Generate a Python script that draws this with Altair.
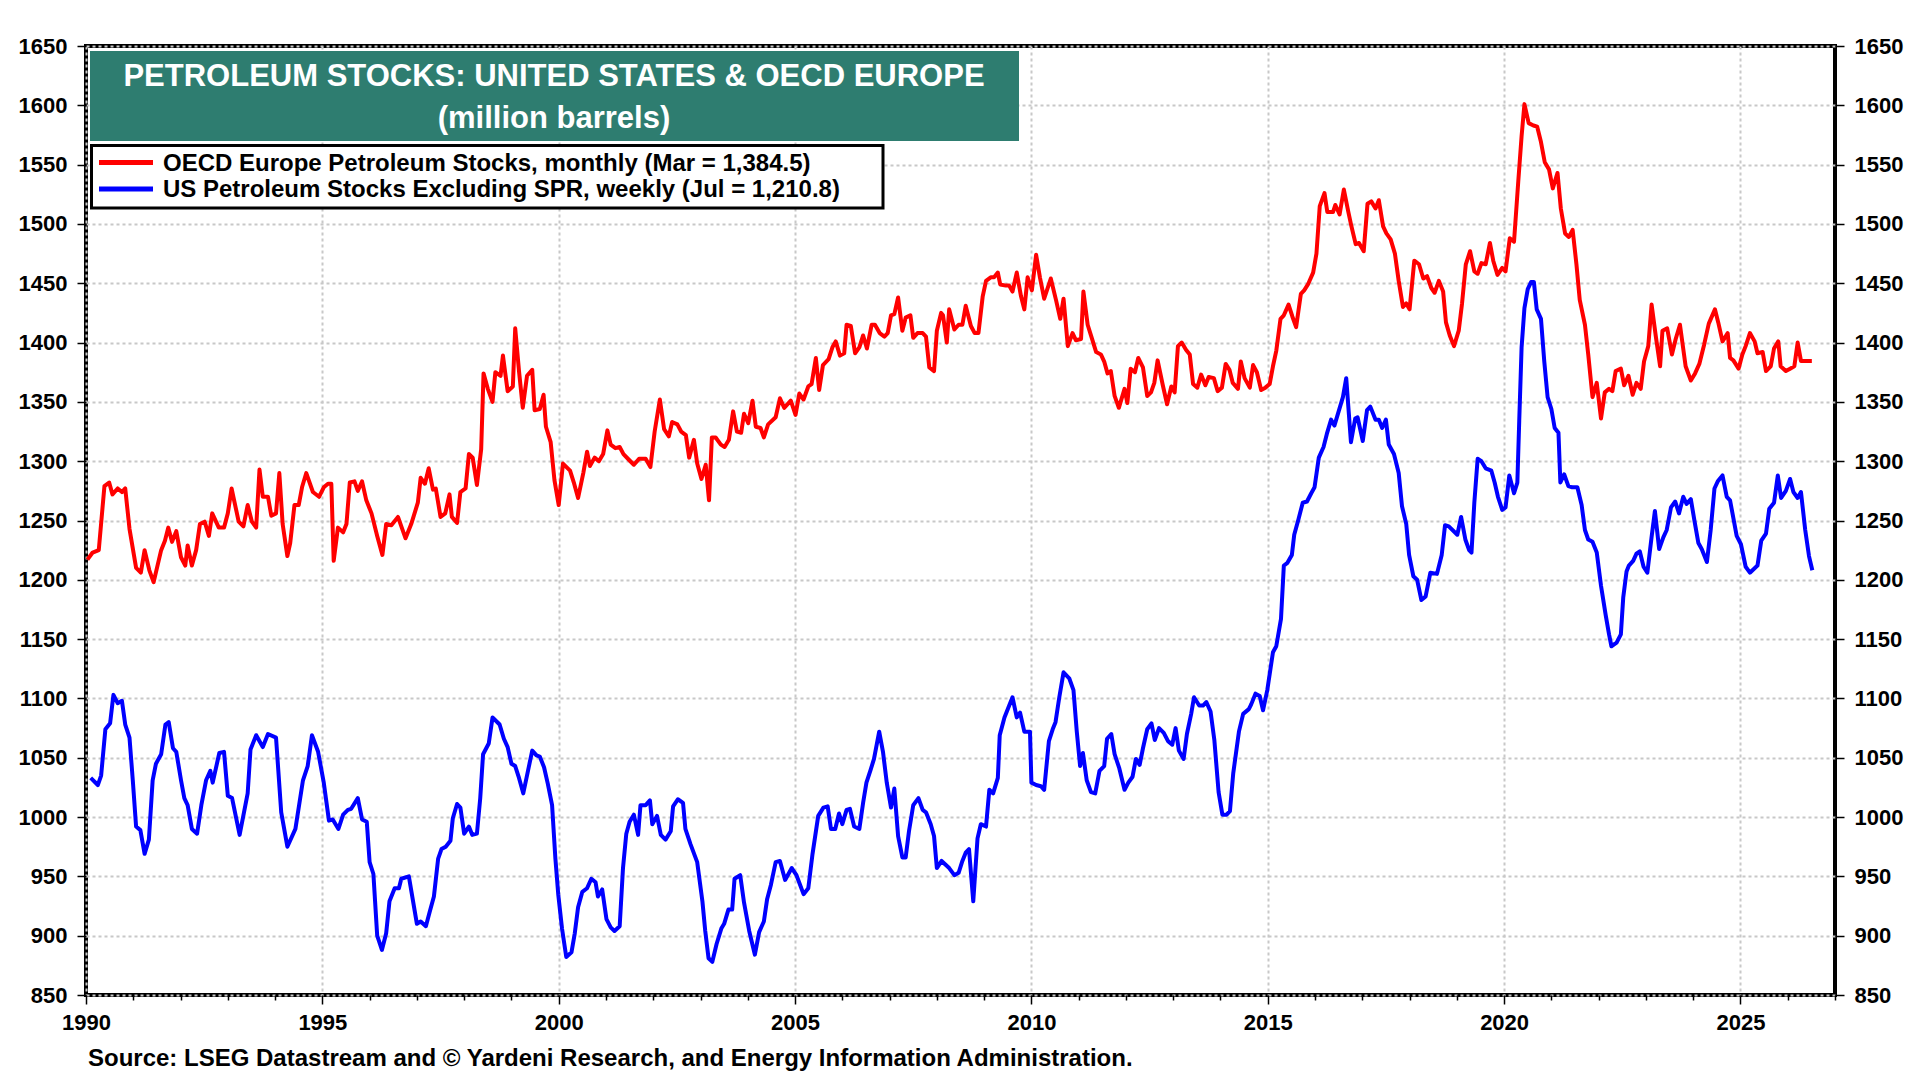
import altair as alt
import pandas as pd

# ---------------- data ----------------
RED_YEARS = [
    1990.03, 1990.14, 1990.27, 1990.39, 1990.49, 1990.56, 1990.67, 1990.76, 1990.83, 1990.92,
    1991.06, 1991.16, 1991.24, 1991.34, 1991.43, 1991.59, 1991.67, 1991.74, 1991.82, 1991.91,
    1992.01, 1992.10, 1992.15, 1992.24, 1992.33, 1992.41, 1992.51, 1992.60, 1992.67, 1992.81,
    1992.92, 1993.00, 1993.08, 1993.23, 1993.33, 1993.42, 1993.51, 1993.60, 1993.67, 1993.74,
    1993.85, 1993.92, 1994.02, 1994.09, 1994.16, 1994.26, 1994.32, 1994.41, 1994.50, 1994.57,
    1994.66, 1994.80, 1994.93, 1995.03, 1995.12, 1995.19, 1995.24, 1995.33, 1995.44, 1995.51,
    1995.58, 1995.68, 1995.75, 1995.84, 1995.93, 1996.04, 1996.16, 1996.27, 1996.35, 1996.46,
    1996.60, 1996.76, 1996.88, 1997.02, 1997.08, 1997.17, 1997.25, 1997.34, 1997.40, 1997.50,
    1997.60, 1997.69, 1997.74, 1997.85, 1997.92, 1998.03, 1998.10, 1998.18, 1998.27, 1998.36,
    1998.41, 1998.50, 1998.60, 1998.66, 1998.77, 1998.82, 1998.92, 1999.03, 1999.08, 1999.16,
    1999.24, 1999.33, 1999.44, 1999.49, 1999.60, 1999.68, 1999.73, 1999.83, 1999.91, 2000.00,
    2000.09, 2000.24, 2000.32, 2000.41, 2000.52, 2000.60, 2000.66, 2000.76, 2000.85, 2000.94,
    2001.03, 2001.10, 2001.20, 2001.29, 2001.37, 2001.49, 2001.59, 2001.70, 2001.84, 2001.94,
    2002.03, 2002.14, 2002.23, 2002.33, 2002.40, 2002.51, 2002.59, 2002.69, 2002.76, 2002.86,
    2002.93, 2003.02, 2003.11, 2003.18, 2003.24, 2003.32, 2003.43, 2003.51, 2003.60, 2003.69,
    2003.77, 2003.86, 2003.92, 2004.01, 2004.10, 2004.17, 2004.27, 2004.34, 2004.43, 2004.59,
    2004.68, 2004.77, 2004.91, 2005.01, 2005.09, 2005.18, 2005.28, 2005.35, 2005.44, 2005.51,
    2005.59, 2005.71, 2005.79, 2005.86, 2005.95, 2006.04, 2006.09, 2006.18, 2006.27, 2006.36,
    2006.44, 2006.52, 2006.62, 2006.69, 2006.79, 2006.89, 2006.96, 2007.03, 2007.10, 2007.18,
    2007.27, 2007.34, 2007.44, 2007.50, 2007.59, 2007.70, 2007.77, 2007.84, 2007.94, 2008.00,
    2008.09, 2008.13, 2008.21, 2008.26, 2008.37, 2008.46, 2008.54, 2008.61, 2008.72, 2008.80,
    2008.88, 2008.97, 2009.04, 2009.14, 2009.21, 2009.29, 2009.34, 2009.46, 2009.53, 2009.60,
    2009.69, 2009.78, 2009.85, 2009.92, 2010.01, 2010.10, 2010.18, 2010.27, 2010.41, 2010.52,
    2010.61, 2010.68, 2010.77, 2010.87, 2010.94, 2011.05, 2011.10, 2011.19, 2011.26, 2011.37,
    2011.47, 2011.54, 2011.61, 2011.68, 2011.76, 2011.85, 2011.97, 2012.03, 2012.10, 2012.19,
    2012.26, 2012.36, 2012.45, 2012.53, 2012.60, 2012.67, 2012.78, 2012.87, 2012.96, 2013.03,
    2013.10, 2013.18, 2013.27, 2013.35, 2013.42, 2013.51, 2013.59, 2013.68, 2013.75, 2013.86,
    2013.94, 2014.03, 2014.11, 2014.19, 2014.26, 2014.37, 2014.43, 2014.51, 2014.62, 2014.69,
    2014.77, 2014.86, 2014.95, 2015.04, 2015.11, 2015.18, 2015.27, 2015.34, 2015.44, 2015.52,
    2015.60, 2015.70, 2015.77, 2015.85, 2015.96, 2016.03, 2016.10, 2016.20, 2016.26, 2016.38,
    2016.43, 2016.52, 2016.61, 2016.70, 2016.77, 2016.86, 2016.93, 2017.03, 2017.11, 2017.19,
    2017.28, 2017.35, 2017.44, 2017.51, 2017.60, 2017.69, 2017.77, 2017.86, 2017.93, 2018.00,
    2018.10, 2018.20, 2018.29, 2018.37, 2018.46, 2018.53, 2018.62, 2018.71, 2018.77, 2018.85,
    2018.94, 2019.04, 2019.11, 2019.19, 2019.28, 2019.37, 2019.44, 2019.52, 2019.61, 2019.70,
    2019.77, 2019.86, 2019.96, 2020.03, 2020.12, 2020.21, 2020.30, 2020.37, 2020.43, 2020.52,
    2020.62, 2020.70, 2020.78, 2020.86, 2020.95, 2021.03, 2021.13, 2021.20, 2021.29, 2021.37,
    2021.45, 2021.53, 2021.60, 2021.71, 2021.78, 2021.87, 2021.96, 2022.05, 2022.13, 2022.22,
    2022.29, 2022.36, 2022.47, 2022.54, 2022.63, 2022.72, 2022.80, 2022.89, 2022.96, 2023.05,
    2023.12, 2023.21, 2023.30, 2023.35, 2023.45, 2023.55, 2023.63, 2023.72, 2023.84, 2023.95,
    2024.04, 2024.13, 2024.23, 2024.33, 2024.46, 2024.53, 2024.62, 2024.73, 2024.78, 2024.85,
    2024.96, 2025.04, 2025.11, 2025.20, 2025.30, 2025.36, 2025.47, 2025.54, 2025.64, 2025.71,
    2025.80, 2025.85, 2025.96, 2026.05, 2026.14, 2026.21, 2026.28, 2026.51,
]
RED_VALUES = [
    1217, 1223, 1225, 1279, 1282, 1272, 1277, 1274, 1277, 1243,
    1210, 1206, 1225, 1208, 1198, 1225, 1233, 1244, 1232, 1241,
    1219, 1212, 1229, 1212, 1225, 1247, 1249, 1237, 1256, 1244,
    1244, 1256, 1277, 1249, 1245, 1263, 1249, 1244, 1293, 1270,
    1270, 1254, 1256, 1290, 1247, 1220, 1231, 1263, 1263, 1278,
    1290, 1274, 1270, 1278, 1281, 1281, 1216, 1244, 1240, 1247,
    1282, 1283, 1275, 1283, 1267, 1256, 1237, 1221, 1247, 1246,
    1253, 1235, 1247, 1265, 1286, 1281, 1294, 1276, 1277, 1253,
    1256, 1272, 1253, 1248, 1274, 1277, 1306, 1303, 1280, 1310,
    1374, 1361, 1350, 1375, 1372, 1389, 1359, 1363, 1412, 1376,
    1345, 1372, 1377, 1343, 1344, 1356, 1329, 1316, 1284, 1263,
    1298, 1292, 1282, 1269, 1290, 1308, 1296, 1303, 1300, 1306,
    1326, 1314, 1311, 1312, 1306, 1301, 1297, 1302, 1302, 1295,
    1325, 1352, 1327, 1321, 1333, 1331, 1325, 1322, 1303, 1318,
    1298, 1285, 1297, 1267, 1320, 1320, 1314, 1312, 1318, 1342,
    1325, 1324, 1340, 1332, 1351, 1329, 1328, 1320, 1331, 1337,
    1353, 1345, 1351, 1339, 1357, 1352, 1363, 1365, 1387, 1360,
    1381, 1386, 1396, 1401, 1389, 1391, 1415, 1414, 1391, 1396,
    1406, 1395, 1415, 1415, 1408, 1405, 1408, 1423, 1424, 1438,
    1410, 1421, 1423, 1404, 1408, 1408, 1405, 1379, 1376, 1410,
    1425, 1423, 1400, 1428, 1411, 1415, 1415, 1431, 1414, 1408,
    1408, 1439, 1452, 1455, 1455, 1459, 1449, 1448, 1448, 1443,
    1459, 1439, 1428, 1455, 1444, 1474, 1455, 1437, 1454, 1436,
    1420, 1437, 1397, 1408, 1402, 1403, 1443, 1415, 1406, 1392,
    1390, 1384, 1374, 1376, 1355, 1345, 1361, 1349, 1378, 1375,
    1387, 1379, 1355, 1358, 1366, 1385, 1364, 1348, 1363, 1358,
    1397, 1400, 1394, 1390, 1365, 1362, 1373, 1364, 1371, 1370,
    1359, 1362, 1382, 1377, 1366, 1361, 1384, 1370, 1362, 1381,
    1375, 1360, 1362, 1365, 1380, 1393, 1420, 1423, 1432, 1422,
    1413, 1441, 1444, 1449, 1459, 1475, 1515, 1526, 1510, 1510,
    1516, 1508, 1529, 1511, 1498, 1483, 1484, 1477, 1517, 1519,
    1513, 1520, 1498, 1492, 1487, 1475, 1452, 1430, 1433, 1428,
    1469, 1466, 1454, 1456, 1446, 1442, 1452, 1443, 1417, 1406,
    1397, 1410, 1433, 1466, 1477, 1460, 1458, 1467, 1466, 1484,
    1469, 1457, 1463, 1460, 1488, 1485, 1536, 1574, 1601, 1585,
    1583, 1582, 1569, 1552, 1546, 1530, 1543, 1513, 1492, 1489,
    1495, 1466, 1436, 1415, 1390, 1354, 1366, 1336, 1358, 1361,
    1359, 1376, 1378, 1364, 1372, 1356, 1366, 1361, 1384, 1397,
    1432, 1405, 1380, 1410, 1412, 1390, 1403, 1415, 1380, 1368,
    1374, 1382, 1398, 1416, 1428, 1417, 1401, 1408, 1387, 1385,
    1378, 1390, 1397, 1408, 1401, 1391, 1392, 1376, 1380, 1395,
    1401, 1380, 1376, 1378, 1380, 1400, 1384.5, 1384.5,
]

BLUE_YEARS = [
    1990.10, 1990.25, 1990.32, 1990.41, 1990.51, 1990.58, 1990.67, 1990.76, 1990.83, 1990.92,
    1990.99, 1991.06, 1991.15, 1991.24, 1991.33, 1991.41, 1991.48, 1991.59, 1991.68, 1991.75,
    1991.84, 1991.91, 1992.01, 1992.08, 1992.15, 1992.24, 1992.35, 1992.44, 1992.54, 1992.63,
    1992.68, 1992.82, 1992.92, 1993.00, 1993.09, 1993.25, 1993.42, 1993.48, 1993.60, 1993.74,
    1993.85, 1994.02, 1994.13, 1994.26, 1994.43, 1994.59, 1994.69, 1994.78, 1994.91, 1995.03,
    1995.14, 1995.22, 1995.34, 1995.44, 1995.54, 1995.61, 1995.75, 1995.84, 1995.94, 1996.00,
    1996.08, 1996.16, 1996.26, 1996.35, 1996.42, 1996.53, 1996.62, 1996.67, 1996.83, 1997.00,
    1997.08, 1997.19, 1997.27, 1997.36, 1997.45, 1997.52, 1997.61, 1997.71, 1997.76, 1997.85,
    1997.92, 1998.00, 1998.10, 1998.17, 1998.27, 1998.34, 1998.40, 1998.52, 1998.60, 1998.75,
    1998.84, 1998.92, 1999.00, 1999.08, 1999.16, 1999.25, 1999.35, 1999.44, 1999.53, 1999.60,
    1999.69, 1999.77, 1999.86, 1999.93, 1999.99, 2000.07, 2000.16, 2000.27, 2000.34, 2000.41,
    2000.50, 2000.60, 2000.69, 2000.78, 2000.83, 2000.92, 2001.01, 2001.10, 2001.18, 2001.29,
    2001.36, 2001.43, 2001.50, 2001.59, 2001.68, 2001.73, 2001.84, 2001.93, 2001.98, 2002.08,
    2002.16, 2002.26, 2002.37, 2002.42, 2002.52, 2002.63, 2002.68, 2002.79, 2002.93, 2003.04,
    2003.10, 2003.17, 2003.25, 2003.34, 2003.44, 2003.50, 2003.59, 2003.67, 2003.72, 2003.84,
    2003.92, 2004.03, 2004.15, 2004.24, 2004.34, 2004.41, 2004.49, 2004.59, 2004.68, 2004.79,
    2004.93, 2005.03, 2005.18, 2005.28, 2005.37, 2005.49, 2005.60, 2005.69, 2005.76, 2005.85,
    2005.93, 2006.00, 2006.09, 2006.16, 2006.25, 2006.36, 2006.44, 2006.51, 2006.60, 2006.67,
    2006.78, 2006.86, 2006.94, 2007.03, 2007.10, 2007.18, 2007.27, 2007.34, 2007.41, 2007.50,
    2007.61, 2007.70, 2007.77, 2007.87, 2007.94, 2008.00, 2008.10, 2008.26, 2008.37, 2008.46,
    2008.54, 2008.61, 2008.68, 2008.77, 2008.86, 2008.93, 2009.04, 2009.11, 2009.19, 2009.29,
    2009.33, 2009.43, 2009.52, 2009.60, 2009.69, 2009.76, 2009.85, 2009.97, 2010.00, 2010.10,
    2010.20, 2010.27, 2010.37, 2010.45, 2010.51, 2010.59, 2010.68, 2010.80, 2010.89, 2010.96,
    2011.03, 2011.09, 2011.17, 2011.26, 2011.35, 2011.44, 2011.54, 2011.60, 2011.69, 2011.76,
    2011.86, 2011.97, 2012.05, 2012.14, 2012.21, 2012.29, 2012.36, 2012.45, 2012.54, 2012.61,
    2012.70, 2012.80, 2012.89, 2012.98, 2013.05, 2013.12, 2013.22, 2013.29, 2013.38, 2013.44,
    2013.55, 2013.63, 2013.70, 2013.79, 2013.87, 2013.96, 2014.04, 2014.13, 2014.20, 2014.27,
    2014.39, 2014.48, 2014.60, 2014.65, 2014.74, 2014.83, 2014.90, 2014.99, 2015.11, 2015.18,
    2015.28, 2015.34, 2015.41, 2015.51, 2015.56, 2015.65, 2015.74, 2015.83, 2015.92, 2015.99,
    2016.08, 2016.18, 2016.25, 2016.34, 2016.41, 2016.50, 2016.59, 2016.66, 2016.76, 2016.85,
    2016.90, 2017.01, 2017.10, 2017.17, 2017.28, 2017.35, 2017.42, 2017.50, 2017.56, 2017.67,
    2017.77, 2017.84, 2017.93, 2017.99, 2018.08, 2018.16, 2018.25, 2018.34, 2018.44, 2018.58,
    2018.68, 2018.75, 2018.83, 2019.01, 2019.09, 2019.18, 2019.26, 2019.31, 2019.37, 2019.44,
    2019.52, 2019.61, 2019.73, 2019.80, 2019.87, 2019.96, 2020.03, 2020.11, 2020.21, 2020.28,
    2020.32, 2020.37, 2020.43, 2020.50, 2020.57, 2020.63, 2020.69, 2020.78, 2020.85, 2020.92,
    2021.00, 2021.07, 2021.15, 2021.19, 2021.27, 2021.36, 2021.44, 2021.55, 2021.64, 2021.71,
    2021.78, 2021.87, 2021.96, 2022.05, 2022.15, 2022.22, 2022.27, 2022.38, 2022.47, 2022.52,
    2022.59, 2022.64, 2022.73, 2022.80, 2022.87, 2022.95, 2023.03, 2023.12, 2023.19, 2023.28,
    2023.37, 2023.44, 2023.53, 2023.62, 2023.70, 2023.79, 2023.86, 2023.95, 2024.03, 2024.11,
    2024.18, 2024.29, 2024.37, 2024.45, 2024.52, 2024.62, 2024.71, 2024.78, 2024.85, 2024.92,
    2025.01, 2025.11, 2025.20, 2025.36, 2025.44, 2025.54, 2025.61, 2025.71, 2025.79, 2025.86,
    2025.96, 2026.05, 2026.12, 2026.21, 2026.28, 2026.37, 2026.45, 2026.52,
]
BLUE_VALUES = [
    1033, 1027, 1035, 1074, 1079, 1103, 1096, 1098, 1078, 1067,
    1031, 992, 989, 969, 981, 1031, 1045, 1053, 1078, 1080,
    1058, 1055, 1031, 1016, 1010, 990, 986, 1010, 1031, 1039,
    1029, 1054, 1055, 1018, 1016, 985, 1020, 1057, 1069, 1059,
    1070, 1067, 1004, 975, 990, 1031, 1043, 1069, 1055, 1029,
    997, 998, 990, 1002, 1006, 1007, 1016, 998, 996, 962,
    952, 900, 888, 902, 929, 940, 940, 948, 950, 910,
    912, 908, 920, 933, 965, 973, 975, 980, 999, 1011,
    1008, 986, 992, 985, 986, 1016, 1053, 1062, 1084, 1078,
    1066, 1059, 1045, 1043, 1033, 1020, 1039, 1056, 1052, 1051,
    1042, 1028, 1010, 965, 935, 906, 882, 886, 902, 924,
    937, 940, 948, 945, 933, 939, 914, 907, 904, 908,
    957, 986, 996, 1002, 985, 1010, 1010, 1014, 994, 1001,
    985, 981, 988, 1009, 1015, 1012, 990, 977, 962, 929,
    904, 881, 878, 893, 906, 910, 922, 922, 948, 951,
    928, 904, 884, 903, 912, 931, 943, 962, 963, 947,
    957, 951, 935, 940, 969, 1001, 1008, 1009, 990, 990,
    1003, 994, 1006, 1007, 992, 990, 1012, 1029, 1040, 1049,
    1072, 1055, 1029, 1008, 1024, 984, 966, 966, 988, 1010,
    1016, 1006, 1004, 994, 984, 957, 963, 957, 951, 953,
    963, 970, 973, 929, 982, 994, 992, 1023, 1020, 1033,
    1069, 1084, 1093, 1101, 1084, 1088, 1072, 1072, 1029, 1027,
    1026, 1023, 1064, 1074, 1080, 1101, 1122, 1117, 1107, 1072,
    1043, 1054, 1031, 1021, 1020, 1039, 1043, 1066, 1070, 1053,
    1041, 1023, 1029, 1034, 1049, 1044, 1058, 1074, 1079, 1065,
    1075, 1071, 1064, 1061, 1075, 1056, 1049, 1070, 1087, 1101,
    1094, 1094, 1097, 1089, 1065, 1021, 1002, 1002, 1005, 1037,
    1072, 1087, 1091, 1095, 1104, 1102, 1090, 1107, 1139, 1144,
    1167, 1212, 1214, 1221, 1238, 1251, 1265, 1266, 1273, 1278,
    1303, 1312, 1323, 1335, 1330, 1342, 1354, 1370, 1316, 1336,
    1337, 1317, 1343, 1346, 1335, 1335, 1328, 1335, 1314, 1306,
    1290, 1262, 1247, 1221, 1203, 1200, 1183, 1186, 1206, 1205,
    1221, 1246, 1245, 1238, 1253, 1234, 1225, 1223, 1265, 1302,
    1300, 1294, 1292, 1282, 1270, 1259, 1261, 1288, 1273, 1282,
    1334, 1396, 1429, 1445, 1451, 1451, 1428, 1420, 1384, 1354,
    1344, 1328, 1324, 1282, 1289, 1279, 1278, 1278, 1263, 1242,
    1234, 1232, 1223, 1195, 1170, 1154, 1144, 1147, 1154, 1185,
    1207, 1212, 1216, 1222, 1224, 1211, 1206, 1236, 1258, 1226,
    1236, 1242, 1261, 1266, 1256, 1270, 1264, 1268, 1249, 1231,
    1226, 1215, 1242, 1277, 1283, 1288, 1270, 1267, 1252, 1237,
    1230, 1211, 1206, 1212, 1233, 1239, 1260, 1265, 1288, 1269,
    1275, 1285, 1274, 1269, 1274, 1242, 1220, 1208,
]

SERIES = [
    "OECD Europe Petroleum Stocks, monthly (Mar = 1,384.5)",
    "US Petroleum Stocks Excluding SPR, weekly (Jul = 1,210.8)",
]
COLORS = ["#ff0000", "#0000ff"]
TITLE_LINES = ["PETROLEUM STOCKS: UNITED STATES & OECD EUROPE", "(million barrels)"]
SOURCE = "Source: LSEG Datastream and \u00a9 Yardeni Research, and Energy Information Administration."
Y_TICKS = list(range(850, 1651, 50))
X_TICKS = list(range(1990, 2028))
X_DOMAIN = [1990, 2027]
Y_DOMAIN = [850, 1650]

# ---------------- build ----------------
df = pd.concat([
    pd.DataFrame({"year": RED_YEARS, "value": RED_VALUES, "series": SERIES[0]}),
    pd.DataFrame({"year": BLUE_YEARS, "value": BLUE_VALUES, "series": SERIES[1]}),
], ignore_index=True)

FONT = "Liberation Sans"
W, H = 1749, 949
GRID = dict(gridColor="#c8c8c8", gridDash=[3, 3], gridWidth=2)
LABELS = dict(labelFont=FONT, labelFontSize=22, labelFontWeight="bold", labelColor="black")
MAJOR = "datum.value % 5 === 0"

x_scale = alt.Scale(domain=X_DOMAIN, nice=False, zero=False)
y_scale = alt.Scale(domain=Y_DOMAIN, nice=False, zero=False)

x_axis = alt.Axis(
    values=X_TICKS, format="d", labelExpr=f"{MAJOR} ? datum.label : ''",
    labelFlush=False, labelOverlap=False, grid=True,
    gridOpacity={"condition": {"test": MAJOR, "value": 1}, "value": 0},
    tickSize={"condition": {"test": MAJOR, "value": 9}, "value": 5},
    tickColor="black", tickWidth=1.5, domain=False, labelPadding=8,
    title=None, **GRID, **LABELS,
)
y_left = alt.Axis(
    values=Y_TICKS, format="d", orient="left", grid=True, tickSize=9,
    tickColor="black", tickWidth=1.5, domain=False, labelPadding=10,
    title=None, **GRID, **LABELS,
)
y_right = alt.Axis(
    values=Y_TICKS, format="d", orient="right", grid=False, tickSize=9,
    tickColor="black", tickWidth=1.5, domain=False, labelPadding=10,
    title=None, **LABELS,
)

one = pd.DataFrame({"k": [0]})

lines = alt.Chart(df).mark_line(strokeWidth=4, strokeJoin="round").encode(
    x=alt.X("year:Q", scale=x_scale, axis=x_axis),
    y=alt.Y("value:Q", scale=y_scale, axis=y_left),
    color=alt.Color("series:N", scale=alt.Scale(domain=SERIES, range=COLORS), legend=None),
)

right_axis = alt.Chart(pd.DataFrame({"v": Y_TICKS})).mark_point(opacity=0).encode(
    y=alt.Y("v:Q", scale=y_scale, axis=y_right)
)

# title box
title_box = alt.Chart(one).mark_rect(color="#2e7d70").encode(
    x=alt.value(4), x2=alt.value(933), y=alt.value(5), y2=alt.value(95)
)
title_layers = [
    alt.Chart(one).mark_text(
        text=line, font=FONT, fontSize=31, fontWeight="bold",
        color="white", align="center", baseline="alphabetic",
    ).encode(x=alt.value(468), y=alt.value(ypos))
    for line, ypos in zip(TITLE_LINES, [39.5, 81.5])
]

# legend box
legend_box = alt.Chart(one).mark_rect(fill="white", stroke="black", strokeWidth=3).encode(
    x=alt.value(5.5), x2=alt.value(797), y=alt.value(99.5), y2=alt.value(162)
)
legend_layers = []
for name, col, ypos in zip(SERIES, COLORS, [116.5, 143]):
    legend_layers.append(
        alt.Chart(one).mark_rule(color=col, strokeWidth=5, strokeCap="butt").encode(
            x=alt.value(13), x2=alt.value(67), y=alt.value(ypos)
        )
    )
    legend_layers.append(
        alt.Chart(one).mark_text(
            text=name, font=FONT, fontSize=24, fontWeight="bold", color="black",
            align="left", baseline="middle",
        ).encode(x=alt.value(77), y=alt.value(ypos + 1))
    )

source = alt.Chart(one).mark_text(
    text=SOURCE, font=FONT, fontSize=24, fontWeight="bold", color="black",
    align="left", baseline="alphabetic",
).encode(x=alt.value(2), y=alt.value(1020))

chart = (
    alt.layer(lines, right_axis, title_box, *title_layers, legend_box, *legend_layers, source)
    .resolve_scale(y="shared")
    .resolve_axis(y="independent")
    .properties(
        width=W, height=H,
        autosize=alt.AutoSizeParams(type="none"),
        padding={"left": 78, "top": 38, "right": 74, "bottom": 77},
        background="white",
    )
    .configure_view(stroke="black", strokeWidth=4)
)

chart.save("out.html", embed_options={"renderer": "svg", "actions": False})
